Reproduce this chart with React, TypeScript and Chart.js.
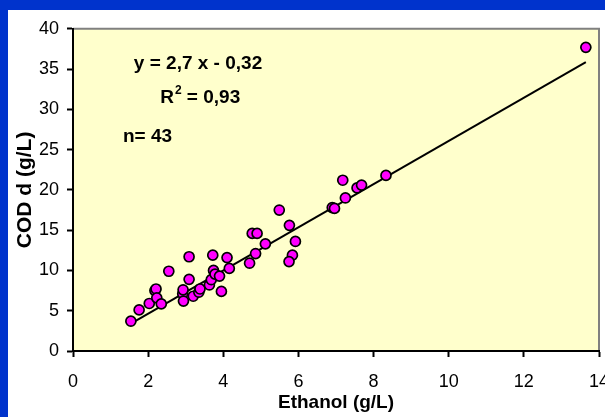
import React, { useEffect, useRef } from "react";
import { Chart, registerables } from "chart.js";

Chart.register(...registerables);

const ETHANOL = [1.54, 1.76, 2.03, 2.18, 2.21, 2.23, 2.35, 2.55, 2.92, 2.93, 2.94, 3.09, 3.09, 3.2, 3.35, 3.38, 3.63, 3.68, 3.72, 3.74, 3.78, 3.9, 3.95, 4.1, 4.16, 4.7, 4.77, 4.9, 4.86, 5.12, 5.49, 5.76, 5.92, 5.84, 5.75, 6.9, 6.96, 7.25, 7.18, 7.56, 7.68, 8.33, 13.65];
const COD = [3.7, 5.1, 5.9, 7.5, 7.7, 6.6, 5.85, 9.9, 7.1, 7.6, 6.2, 8.9, 11.7, 6.8, 7.3, 7.7, 8.2, 8.85, 11.9, 10.0, 9.55, 9.3, 7.4, 11.6, 10.25, 10.9, 14.6, 14.6, 12.1, 13.3, 17.5, 15.6, 13.6, 11.9, 11.1, 17.8, 17.7, 19.0, 21.2, 20.25, 20.6, 21.8, 37.7];
const TREND_SLOPE = 2.68;
const TREND_INTERCEPT = -0.72;
const EQUATION = "y = 2,7 x - 0,32";
const R2_TEXT = "0,93";
const N_TEXT = "n= 43";
const X_TITLE = "Ethanol (g/L)";
const Y_TITLE = "COD d (g/L)";

const FONT = "'Liberation Sans', Arial, sans-serif";

export default function App() {
  const ref = useRef<HTMLCanvasElement>(null);
  useEffect(() => {
    const canvas = ref.current!;
    const xmin = Math.min(...ETHANOL);
    const xmax = Math.max(...ETHANOL);
    const points = ETHANOL.map((x, i) => ({ x, y: COD[i] }));
    const trend = [
      { x: xmin, y: TREND_SLOPE * xmin + TREND_INTERCEPT },
      { x: xmax, y: TREND_SLOPE * xmax + TREND_INTERCEPT },
    ];
    const bgPlugin = {
      id: "bg",
      beforeDraw(chart: any) {
        const { ctx, chartArea: a } = chart;
        ctx.save();
        ctx.fillStyle = "#FFFFCC";
        ctx.fillRect(a.left, a.top, a.right - a.left, a.bottom - a.top);
        ctx.strokeStyle = "#808080";
        ctx.lineWidth = 2;
        ctx.beginPath();
        ctx.moveTo(a.left, a.top);
        ctx.lineTo(a.right, a.top);
        ctx.lineTo(a.right, a.bottom);
        ctx.stroke();
        ctx.restore();
      },
      afterDatasetsDraw(chart: any) {
        const { ctx, scales } = chart;
        const xs = scales.x;
        const ys = scales.y;
        ctx.save();
        ctx.fillStyle = "#000";
        ctx.textBaseline = "middle";
        ctx.textAlign = "left";
        ctx.font = `bold 19px ${FONT}`;
        ctx.fillText(EQUATION, xs.getPixelForValue(1.62), ys.getPixelForValue(35.6));
        let x = xs.getPixelForValue(2.32);
        const y = ys.getPixelForValue(31.5);
        ctx.fillText("R", x, y);
        x += ctx.measureText("R").width;
        ctx.font = `bold 12px ${FONT}`;
        ctx.fillText("2", x + 1, y - 7);
        x += ctx.measureText("2").width + 1;
        ctx.font = `bold 19px ${FONT}`;
        ctx.fillText(" = " + R2_TEXT, x, y);
        ctx.fillText(N_TEXT, xs.getPixelForValue(1.33), ys.getPixelForValue(26.6));
        ctx.restore();
      },
    };
    const chart = new Chart(canvas, {
      type: "scatter",
      data: {
        datasets: [
          {
            data: trend,
            showLine: true,
            borderColor: "#000",
            borderWidth: 2,
            pointRadius: 0,
            order: 2,
          },
          {
            data: points,
            backgroundColor: "#FF00FF",
            borderColor: "#000",
            borderWidth: 1.7,
            pointRadius: 5,
            order: 1,
          },
        ],
      },
      plugins: [bgPlugin],
      options: {
        responsive: false,
        animation: false,
        devicePixelRatio: 1,
        layout: { padding: { top: 16, right: 29, left: 0, bottom: 0 } },
        plugins: { legend: { display: false }, tooltip: { enabled: false } },
        scales: {
          x: {
            type: "linear",
            min: 0,
            max: 14,
            afterFit: (s: any) => { s.height = 66; },
            ticks: { stepSize: 2, color: "#000", font: { family: FONT, size: 18 }, padding: 14, maxRotation: 0 },
            grid: { drawOnChartArea: false, color: "#000", tickLength: 6, tickWidth: 2 },
            border: { color: "#000", width: 2 },
            title: { display: true, text: X_TITLE, color: "#000", font: { family: FONT, size: 19, weight: "bold" }, padding: { top: 0, bottom: 3 } },
          },
          y: {
            type: "linear",
            min: 0,
            max: 40,
            afterFit: (s: any) => { s.width = 65; },
            ticks: { stepSize: 5, color: "#000", font: { family: FONT, size: 18 }, padding: 8 },
            grid: { drawOnChartArea: false, color: "#000", tickLength: 6, tickWidth: 2 },
            border: { color: "#000", width: 2 },
            title: { display: true, text: Y_TITLE, color: "#000", font: { family: FONT, size: 21, weight: "bold" }, padding: { top: 5, bottom: 3 } },
          },
        },
      },
    });
    return () => chart.destroy();
  }, []);
  return (
    <div style={{ position: "fixed", left: 0, top: 0, width: 605, height: 417, background: "#0033CC", overflow: "hidden" }}>
      <div style={{ position: "absolute", left: 8, top: 10, width: 620, height: 407, background: "#fff" }}>
        <canvas ref={ref} width={620} height={407} style={{ width: 620, height: 407, display: "block" }} />
      </div>
    </div>
  );
}
